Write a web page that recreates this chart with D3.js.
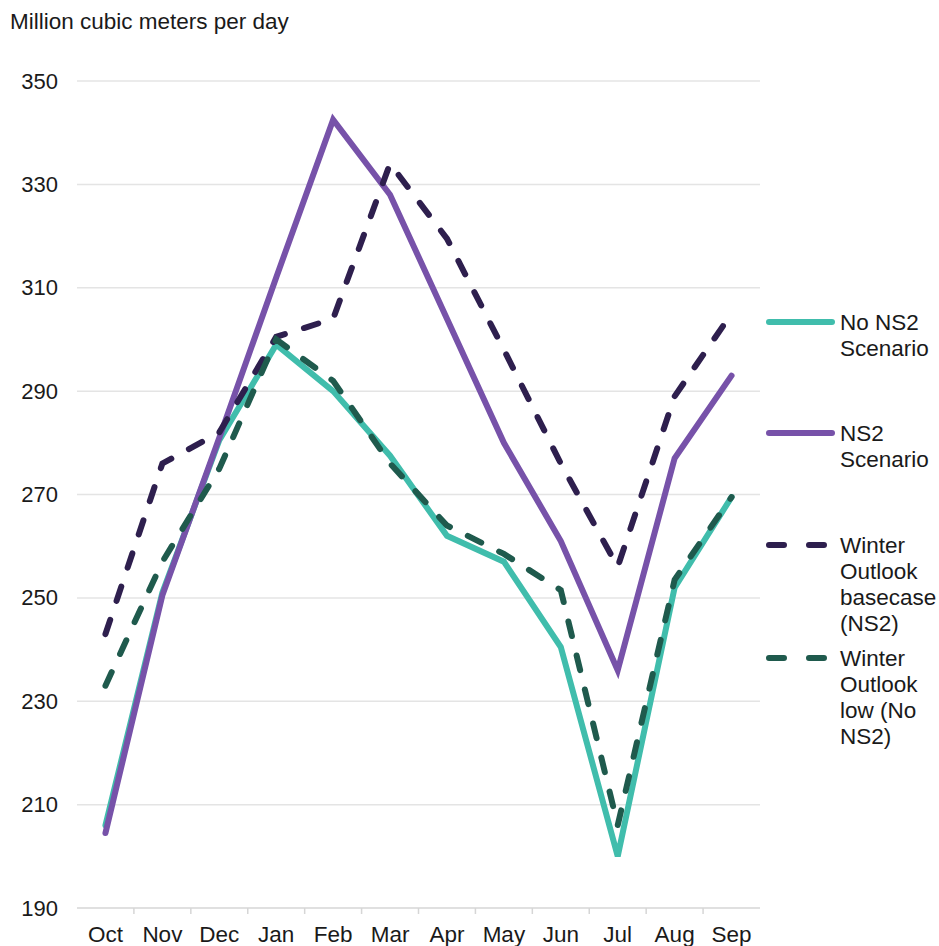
<!DOCTYPE html>
<html>
<head>
<meta charset="utf-8">
<script src="https://cdn.jsdelivr.net/npm/d3@7"></script>
<style>
  html, body { margin: 0; padding: 0; background: #ffffff; }
  svg text { font-family: "Liberation Sans", Arial, sans-serif; fill: #1a1a1a; }
</style>
</head>
<body>
<svg id="chart" width="939" height="946"></svg>
<script>
// Monthly gas flow by scenario (million cubic meters per day)
const months = ["Oct", "Nov", "Dec", "Jan", "Feb", "Mar", "Apr", "May", "Jun", "Jul", "Aug", "Sep"];
const noNS2Scenario = [206, 251, 280.5, 299, 290, 277.5, 262, 257, 240.5, 200, 252, 269.5];
const ns2Scenario = [204.5, 250.5, 281, 312, 342.5, 328, 304, 280, 261, 236, 277, 293];
const outlookBasecase = [243, 276, 282, 300.5, 304, 334, 319.5, 298, 276, 256, 289, 305];
const outlookLow = [233, 257, 275, 300, 292, 276, 264, 258.5, 251.5, 206, 253.5, 269.5];
const yTicks = [190, 210, 230, 250, 270, 290, 310, 330, 350];

const series = [
  { name: ["No NS2", "Scenario"], values: noNS2Scenario, color: "#40bdac", dashed: false, legendY: 322 },
  { name: ["NS2", "Scenario"], values: ns2Scenario, color: "#7752a9", dashed: false, legendY: 433 },
  { name: ["Winter", "Outlook", "basecase", "(NS2)"], values: outlookBasecase, color: "#2e1f4e", dashed: true, legendY: 545 },
  { name: ["Winter", "Outlook", "low (No", "NS2)"], values: outlookLow, color: "#1f5a4d", dashed: true, legendY: 658 }
];

const svg = d3.select("#chart");
const plotLeft = 77, plotRight = 760, plotTop = 81, plotBottom = 908;

const x = d3.scaleBand().domain(months).range([plotLeft, plotRight]).padding(0);
const cx = m => x(m) + x.bandwidth() / 2;
const y = d3.scaleLinear().domain([190, 350]).range([plotBottom, plotTop]);

// Unit label
svg.append("text")
  .attr("x", 10).attr("y", 29)
  .attr("font-size", 22.5)
  .text("Million cubic meters per day");

// Horizontal gridlines
svg.append("g")
  .selectAll("line")
  .data(yTicks.filter(t => t > 190))
  .join("line")
  .attr("x1", plotLeft).attr("x2", plotRight)
  .attr("y1", d => y(d)).attr("y2", d => y(d))
  .attr("stroke", "#e4e4e4").attr("stroke-width", 1.5);

// Y axis labels
const yAxis = svg.append("g")
  .attr("transform", `translate(${plotLeft - 19},0)`)
  .call(d3.axisLeft(y).tickValues(yTicks).tickSize(0).tickPadding(0));
yAxis.select(".domain").remove();
yAxis.selectAll("text")
  .attr("font-size", 22)
  .attr("font-family", "Liberation Sans, Arial, sans-serif")
  .attr("fill", "#1a1a1a");

// X axis baseline with ticks between categories
svg.append("line")
  .attr("x1", plotLeft).attr("x2", plotRight)
  .attr("y1", plotBottom).attr("y2", plotBottom)
  .attr("stroke", "#d6d6d6").attr("stroke-width", 1.5);
svg.append("g")
  .selectAll("line")
  .data(months.slice(1))
  .join("line")
  .attr("x1", d => x(d)).attr("x2", d => x(d))
  .attr("y1", plotBottom).attr("y2", plotBottom + 6)
  .attr("stroke", "#d6d6d6").attr("stroke-width", 1.5);

const xAxis = svg.append("g")
  .attr("transform", `translate(0,${plotBottom})`)
  .call(d3.axisBottom(x).tickSize(0).tickPadding(18));
xAxis.select(".domain").remove();
xAxis.selectAll("text")
  .attr("font-size", 22.5)
  .attr("font-family", "Liberation Sans, Arial, sans-serif")
  .attr("fill", "#1a1a1a");

// Series lines: solid scenarios first, dashed outlooks on top
const line = d3.line()
  .x((d, i) => cx(months[i]))
  .y(d => y(d));

series.forEach(s => {
  svg.append("path")
    .datum(s.values)
    .attr("d", line)
    .attr("fill", "none")
    .attr("stroke", s.color)
    .attr("stroke-width", 6)
    .attr("stroke-linejoin", "miter")
    .attr("stroke-linecap", "round")
    .attr("stroke-dasharray", s.dashed ? "15,20" : null);
});

// Legend
const legend = svg.append("g");
series.forEach(s => {
  legend.append("line")
    .attr("x1", 769).attr("x2", 832)
    .attr("y1", s.legendY).attr("y2", s.legendY)
    .attr("stroke", s.color)
    .attr("stroke-width", 6)
    .attr("stroke-linecap", "round")
    .attr("stroke-dasharray", s.dashed ? "15,25" : null);
  const t = legend.append("text")
    .attr("x", 840)
    .attr("y", s.legendY + 8)
    .attr("font-size", 22.5);
  s.name.forEach((part, i) => {
    t.append("tspan")
      .attr("x", 840)
      .attr("dy", i === 0 ? 0 : 26)
      .text(part);
  });
});
</script>
</body>
</html>
